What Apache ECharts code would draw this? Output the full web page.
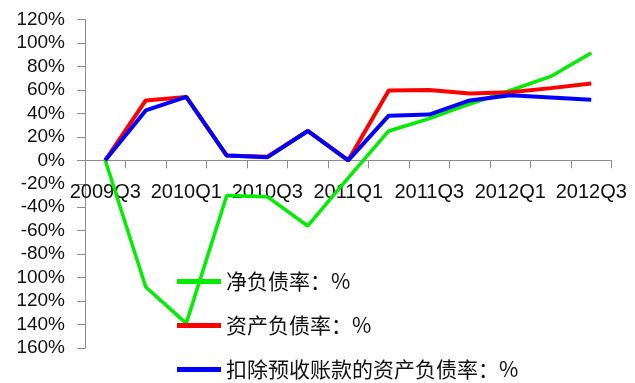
<!DOCTYPE html>
<html>
<head>
<meta charset="utf-8">
<script src="https://cdn.jsdelivr.net/npm/echarts@6/dist/echarts.min.js"></script>
<style>
  html, body { margin: 0; padding: 0; background: #fff; }
  #chart { width: 635px; height: 383px; }
</style>
</head>
<body>
<div id="chart"></div>
<script>
// Quarterly categories
const quarters = ['2009Q3', '2009Q4', '2010Q1', '2010Q2', '2010Q3', '2010Q4', '2011Q1',
                  '2011Q2', '2011Q3', '2011Q4', '2012Q1', '2012Q2', '2012Q3'];

// Ratios in percent
const netDebtRatio   = [0, -108, -139, -30, -31, -56, -15, 25, 35.5, 48, 59.5, 71.5, 91.5];
const assetLiability = [0, 51, 54, 4, 3, 25, 0, 59.5, 60, 57, 58, 61.5, 65.5];
const adjLiability   = [0, 42.5, 54, 4, 2.5, 25, 0, 38, 39, 51, 55.5, 53.5, 51.5];

const seriesNames = ['净负债率：%', '资产负债率：%', '扣除预收账款的资产负债率：%'];

// Value-axis tick labels, bottom to top
const yTickValues = [-160, -140, -120, -100, -80, -60, -40, -20, 0, 20, 40, 60, 80, 100, 120];
const yTickLabels = ['160%', '140%', '120%', '100%', '-80%', '-60%', '-40%', '-20%',
                     '0%', '20%', '40%', '60%', '80%', '100%', '120%'];

const Y_MIN = -160, Y_MAX = 120;
const GRID = { left: 85, right: 23.5, top: 19.5, bottom: 35 };
const CHART_H = 383;

// distance from the grid's bottom edge up to the zero line
const plotH = CHART_H - GRID.top - GRID.bottom;
const zeroLift = plotH * (0 - Y_MIN) / (Y_MAX - Y_MIN);

const chart = echarts.init(document.getElementById('chart'), null, { renderer: 'canvas' });

const axisGrey = '#8c8c8c';
const labelFont = 'Liberation Sans';

chart.setOption({
  animation: false,
  backgroundColor: '#ffffff',
  grid: Object.assign({ containLabel: false }, GRID),
  xAxis: [
    {
      // axis line and boundary ticks across the zero line
      type: 'category',
      data: quarters,
      boundaryGap: true,
      axisLine: { onZero: true, lineStyle: { color: axisGrey, width: 1 } },
      axisTick: { show: true, length: 8, interval: 0, lineStyle: { color: axisGrey } },
      axisLabel: { show: false },
      splitLine: { show: false }
    },
    {
      // quarter labels hanging just below the zero line
      type: 'category',
      data: quarters,
      boundaryGap: true,
      position: 'bottom',
      offset: -zeroLift,
      axisLine: { show: false },
      axisTick: { show: false },
      axisLabel: {
        interval: 1,
        margin: 22,
        color: '#111',
        fontFamily: labelFont,
        fontSize: 20
      },
      splitLine: { show: false }
    }
  ],
  yAxis: {
    type: 'value',
    min: Y_MIN,
    max: Y_MAX,
    interval: 20,
    axisLine: { show: true, lineStyle: { color: axisGrey, width: 1 } },
    axisTick: { show: true, length: 8, lineStyle: { color: axisGrey } },
    axisLabel: {
      margin: 20,
      color: '#111',
      fontFamily: labelFont,
      fontSize: 19,
      formatter: function (v) {
        const i = yTickValues.indexOf(Math.round(v));
        return i >= 0 ? yTickLabels[i] : '';
      }
    },
    splitLine: { show: false }
  },
  legend: {
    orient: 'vertical',
    left: 177,
    top: 271,
    height: 140,
    padding: 0,
    itemWidth: 44,
    itemHeight: 5,
    itemGap: 23,
    icon: 'rect',
    data: seriesNames,
    textStyle: {
      fontFamily: 'Noto Sans CJK SC',
      fontSize: 21,
      color: '#111'
    }
  },
  series: [
    {
      name: seriesNames[0],
      type: 'line',
      data: netDebtRatio,
      symbol: 'none',
      lineStyle: { color: '#00ee00', width: 3.5 },
      itemStyle: { color: '#00ee00' },
      z: 2
    },
    {
      name: seriesNames[1],
      type: 'line',
      data: assetLiability,
      symbol: 'none',
      lineStyle: { color: '#ff0000', width: 4 },
      itemStyle: { color: '#ff0000' },
      z: 3
    },
    {
      name: seriesNames[2],
      type: 'line',
      data: adjLiability,
      symbol: 'none',
      lineStyle: { color: '#0000ff', width: 4 },
      itemStyle: { color: '#0000ff' },
      z: 4
    }
  ]
});
</script>
</body>
</html>
